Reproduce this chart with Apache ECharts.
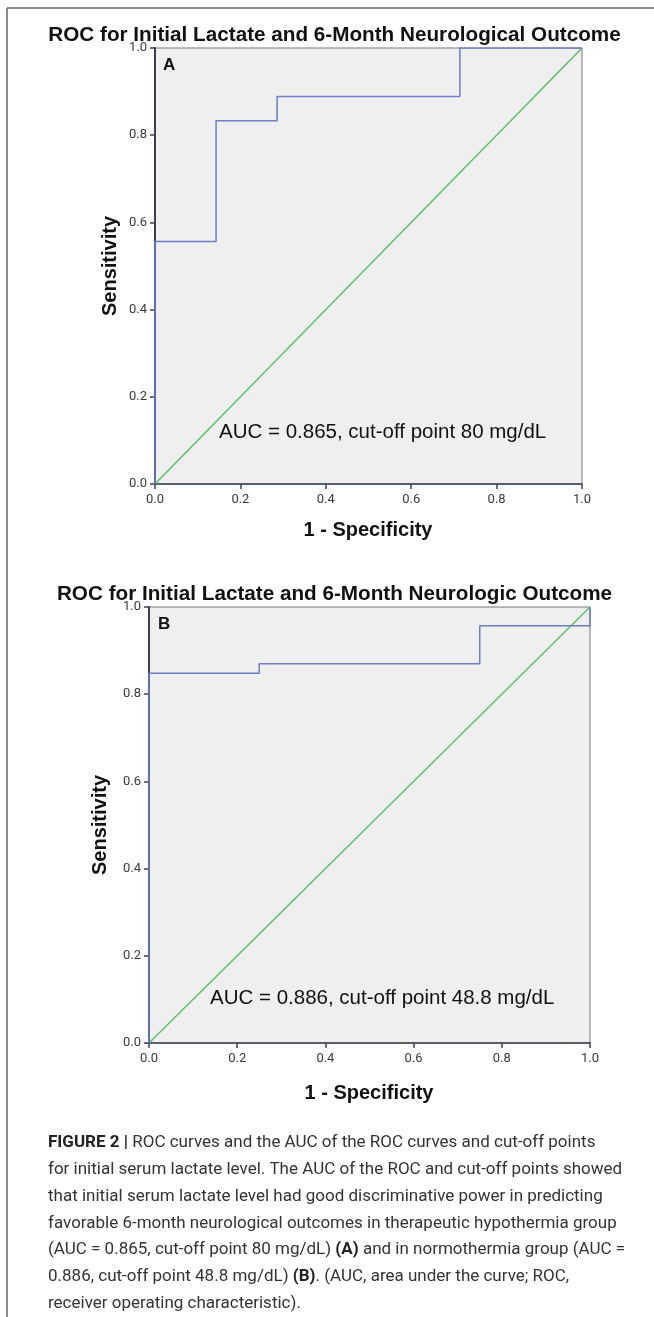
<!DOCTYPE html>
<html>
<head>
<meta charset="utf-8">
<script src="https://cdn.jsdelivr.net/npm/echarts@6/dist/echarts.min.js"></script>
<style>
html,body{margin:0;padding:0;background:#fff;}
#c{width:654px;height:1317px;}
</style>
</head>
<body>
<div id="c"></div>
<script>
// Data
const titleA = 'ROC for Initial Lactate and 6-Month Neurological Outcome';
const titleB = 'ROC for Initial Lactate and 6-Month Neurologic Outcome';
const rocA_x = [0, 0, 0.143, 0.143, 0.286, 0.286, 0.714, 0.714, 1];
const rocA_y = [0, 0.556, 0.556, 0.833, 0.833, 0.889, 0.889, 1, 1];
const rocB_x = [0, 0, 0.25, 0.25, 0.75, 0.75, 1, 1];
const rocB_y = [0, 0.848, 0.848, 0.870, 0.870, 0.957, 0.957, 1];
const diag_x = [0, 1];
const diag_y = [0, 1];
const aucA = 'AUC = 0.865, cut-off point 80 mg/dL';
const aucB = 'AUC = 0.886, cut-off point 48.8 mg/dL';
const xName = '1 - Specificity';
const yName = 'Sensitivity';
const captionLines = [
  '{b|FIGURE 2 |} ROC curves and the AUC of the ROC curves and cut-off points',
  'for initial serum lactate level. The AUC of the ROC and cut-off points showed',
  'that initial serum lactate level had good discriminative power in predicting',
  'favorable 6-month neurological outcomes in therapeutic hypothermia group',
  '(AUC = 0.865, cut-off point 80 mg/dL) {b|(A)} and in normothermia group (AUC =',
  '0.886, cut-off point 48.8 mg/dL) {b|(B)}. (AUC, area under the curve; ROC,',
  'receiver operating characteristic).'
];

const zip = (xs, ys) => xs.map((x, i) => [x, ys[i]]);
const chart = echarts.init(document.getElementById('c'), null, {renderer: 'canvas'});

const BLUE = '#6d7ec8';
const GREEN = '#55c466';
const NARROW = '"Liberation Sans Narrow", "Roboto", "Liberation Sans", sans-serif';
const ARIAL = '"Liberation Sans", Arial, sans-serif';

const grids = [
  {left: 155, top: 48, width: 427, height: 436},
  {left: 149, top: 607, width: 441, height: 436}
];

function xAx(i) {
  return {
    gridIndex: i, type: 'value', min: 0, max: 1, interval: 0.2,
    axisLine: {show: true, lineStyle: {color: '#3b4150', width: 1.5}},
    axisTick: {show: true, length: 5, lineStyle: {color: '#3b4150', width: 1.5}},
    axisLabel: {color: '#3a3a3a', fontFamily: NARROW, fontSize: 13, margin: 9,
      formatter: v => v.toFixed(1)},
    splitLine: {show: false}
  };
}
function yAx(i) {
  return {
    gridIndex: i, type: 'value', min: 0, max: 1, interval: 0.2,
    axisLine: {show: true, lineStyle: {color: '#3b4150', width: 2}},
    axisTick: {show: true, length: 5, lineStyle: {color: '#3b4150', width: 1.5}},
    axisLabel: {color: '#3a3a3a', fontFamily: NARROW, fontSize: 13, margin: 8,
      formatter: v => v.toFixed(1)},
    splitLine: {show: false}
  };
}

function lineSeries(i, data, color) {
  return {
    type: 'line', xAxisIndex: i, yAxisIndex: i, data: data,
    showSymbol: false, symbol: 'none', animation: false,
    lineStyle: {color: color, width: 1.5}, z: 3
  };
}

const texts = [];
function txt(x, y, s, opt) {
  texts.push({type: 'text', x: x, y: y, rotation: opt.rotation || 0,
    style: Object.assign({text: s, fill: '#111', textAlign: 'center', textVerticalAlign: 'middle'}, opt.style), z: 10});
}
txt(334.5, 35, titleA, {style: {font: 'bold 20.7px ' + ARIAL, fill: '#111'}});
txt(334.5, 594, titleB, {style: {font: 'bold 20.7px ' + ARIAL, fill: '#111'}});
txt(163, 65, 'A', {style: {font: 'bold 17px ' + ARIAL, textAlign: 'left'}});
txt(158, 624, 'B', {style: {font: 'bold 17px ' + ARIAL, textAlign: 'left'}});
txt(219, 432, aucA, {style: {font: '20.5px ' + ARIAL, textAlign: 'left'}});
txt(210, 998, aucB, {style: {font: '20.5px ' + ARIAL, textAlign: 'left'}});
txt(368, 530, xName, {style: {font: 'bold 20px ' + ARIAL}});
txt(369, 1093, xName, {style: {font: 'bold 20px ' + ARIAL}});
txt(110, 266, yName, {rotation: Math.PI / 2, style: {font: 'bold 20px ' + ARIAL}});
txt(100, 825, yName, {rotation: Math.PI / 2, style: {font: 'bold 20px ' + ARIAL}});

captionLines.forEach((ln, k) => {
  texts.push({type: 'text', x: 48, y: 1143 + k * 26.8, z: 10,
    style: {text: ln, fill: '#333', font: '17px ' + NARROW, textVerticalAlign: 'middle',
      rich: {b: {fontWeight: 'bold', fill: '#222', fontSize: 17, fontFamily: NARROW}}}});
});

// frame
texts.push({type: 'line', shape: {x1: 7, y1: 8, x2: 7, y2: 1317}, style: {stroke: '#666', lineWidth: 1.5}, z: 1});
texts.push({type: 'line', shape: {x1: 7, y1: 8, x2: 654, y2: 8}, style: {stroke: '#666', lineWidth: 1.5}, z: 1});

chart.setOption({
  animation: false,
  grid: grids.map(g => Object.assign({show: true, backgroundColor: '#efefef', borderColor: '#7a7a7a', borderWidth: 1}, g)),
  xAxis: [xAx(0), xAx(1)],
  yAxis: [yAx(0), yAx(1)],
  series: [
    lineSeries(0, zip(diag_x, diag_y), GREEN),
    lineSeries(0, zip(rocA_x, rocA_y), BLUE),
    lineSeries(1, zip(diag_x, diag_y), GREEN),
    lineSeries(1, zip(rocB_x, rocB_y), BLUE)
  ],
  graphic: texts
});
</script>
</body>
</html>
